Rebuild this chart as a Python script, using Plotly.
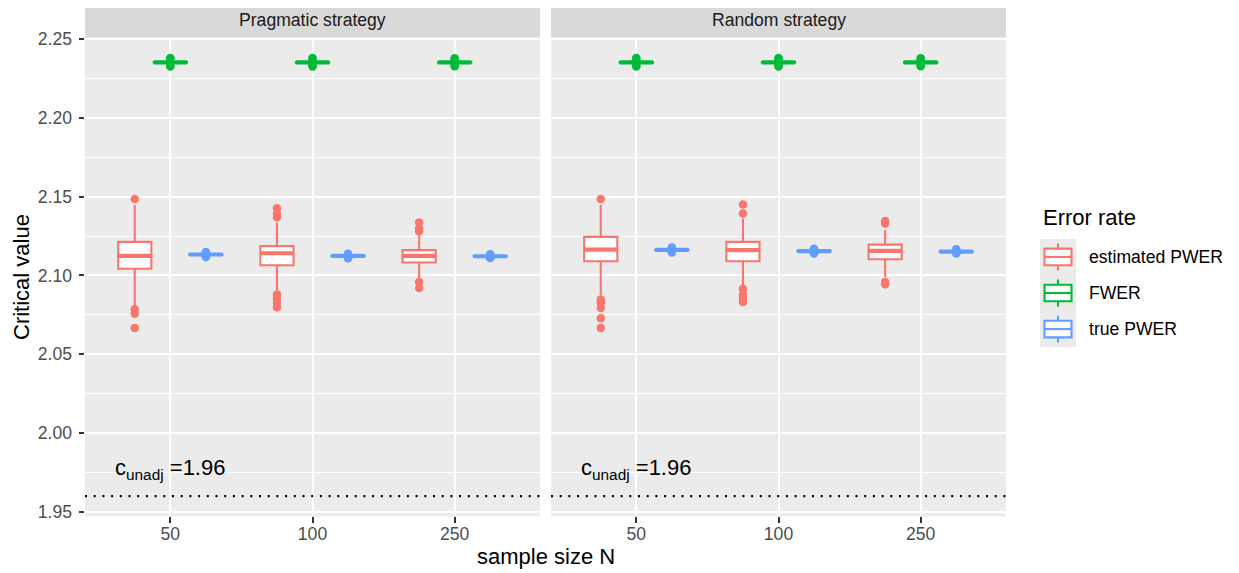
import plotly.graph_objects as go

W, H = 1239, 573

strategies = ["Pragmatic strategy", "Random strategy"]
sample_sizes = ["50", "100", "250"]
error_rates = ["estimated PWER", "FWER", "true PWER"]
colors = ["#F8766D", "#00BA38", "#619CFF"]
c_unadj = 1.96

# estimated PWER: [strategy][sample size]
est_low = [[2.0806, 2.0906, 2.0980], [2.0874, 2.0938, 2.0990]]
est_q1 = [[2.1043, 2.1065, 2.1082], [2.1090, 2.1090, 2.1103]]
est_med = [[2.1124, 2.1141, 2.1124], [2.1164, 2.1161, 2.1156]]
est_q3 = [[2.1213, 2.1186, 2.1161], [2.1245, 2.1213, 2.1196]]
est_high = [[2.1447, 2.1336, 2.1256], [2.1449, 2.1362, 2.1288]]
est_out = [
    [[2.1485, 2.0785, 2.0757, 2.0667],
     [2.1426, 2.1394, 2.1370, 2.0880, 2.0852, 2.0827, 2.0799],
     [2.1336, 2.1298, 2.1281, 2.0959, 2.0920]],
    [[2.1485, 2.0848, 2.0827, 2.0793, 2.0729, 2.0667],
     [2.1451, 2.1394, 2.0916, 2.0878, 2.0857, 2.0831],
     [2.1345, 2.1330, 2.0959, 2.0945]],
]

# FWER
fwer_low = [[2.2349, 2.2349, 2.2349], [2.2349, 2.2349, 2.2349]]
fwer_q1 = [[2.2351, 2.2351, 2.2351], [2.2351, 2.2351, 2.2351]]
fwer_med = [[2.2353, 2.2353, 2.2353], [2.2353, 2.2353, 2.2353]]
fwer_q3 = [[2.2355, 2.2355, 2.2355], [2.2355, 2.2355, 2.2355]]
fwer_high = [[2.2357, 2.2357, 2.2357], [2.2357, 2.2357, 2.2357]]
fwer_out = [
    [[2.2327, 2.2333, 2.2373, 2.2380], [2.2327, 2.2333, 2.2373, 2.2380], [2.2328, 2.2334, 2.2372, 2.2378]],
    [[2.2327, 2.2333, 2.2373, 2.2380], [2.2327, 2.2333, 2.2373, 2.2380], [2.2328, 2.2334, 2.2372, 2.2378]],
]

# true PWER
true_low = [[2.1127, 2.1118, 2.1117], [2.1156, 2.1148, 2.1147]]
true_q1 = [[2.1131, 2.1122, 2.1120], [2.1160, 2.1152, 2.1150]]
true_med = [[2.1133, 2.1124, 2.1122], [2.1162, 2.1154, 2.1152]]
true_q3 = [[2.1135, 2.1126, 2.1124], [2.1164, 2.1156, 2.1154]]
true_high = [[2.1139, 2.1130, 2.1127], [2.1168, 2.1160, 2.1157]]
true_out = [
    [[2.1117, 2.1122, 2.1145, 2.1149], [2.1110, 2.1115, 2.1134, 2.1138], [2.1111, 2.1115, 2.1130, 2.1134]],
    [[2.1146, 2.1151, 2.1173, 2.1178], [2.1140, 2.1145, 2.1165, 2.1169], [2.1140, 2.1144, 2.1162, 2.1166]],
]

stats = [
    (est_low, est_q1, est_med, est_q3, est_high, est_out),
    (fwer_low, fwer_q1, fwer_med, fwer_q3, fwer_high, fwer_out),
    (true_low, true_q1, true_med, true_q3, true_high, true_out),
]

FONT = "Liberation Sans, Arial, sans-serif"
dodge = 0.75
box_w = 0.7 / 3
offsets = [-dodge / 3, 0.0, dodge / 3]

# target pixel geometry -> paper (vertical extent of the rendered page is 7.5..566.5)
def PX(x):
    return x / W

def PY(y):
    return min(1.0, max(0.0, 1 - (y - 7.5) / 559.0))

panel_x = [(85, 540), (551, 1006)]
panel_top, panel_bot = 37, 515

fig = go.Figure()

for p, strat in enumerate(strategies):
    xa = "x" if p == 0 else "x2"
    ya = "y" if p == 0 else "y2"
    for g, name in enumerate(error_rates):
        low, q1, med, q3, high, out = stats[g]
        xs = [i + 1 + offsets[g] for i in range(len(sample_sizes))]
        fig.add_trace(go.Box(
            x=xs, q1=q1[p], median=med[p], q3=q3[p],
            lowerfence=low[p], upperfence=high[p],
            width=box_w, fillcolor="white",
            line=dict(color=colors[g], width=2.1),
            whiskerwidth=0, boxpoints=False,
            name=name, showlegend=False, xaxis=xa, yaxis=ya,
        ))
        # fattened median line
        mx, my = [], []
        for i, xc in enumerate(xs):
            mx += [xc - box_w / 2, xc + box_w / 2, None]
            my += [med[p][i], med[p][i], None]
        fig.add_trace(go.Scatter(
            x=mx, y=my, mode="lines", line=dict(color=colors[g], width=4.2),
            showlegend=False, hoverinfo="skip", xaxis=xa, yaxis=ya,
        ))
        # outliers
        ox, oy = [], []
        for i, xc in enumerate(xs):
            for v in out[p][i]:
                ox.append(xc)
                oy.append(v)
        fig.add_trace(go.Scatter(
            x=ox, y=oy, mode="markers",
            marker=dict(color=colors[g], size=8.5, line=dict(width=0)),
            showlegend=False, xaxis=xa, yaxis=ya,
        ))

axis_common = dict(
    range=[0.4, 3.6], tickvals=[1, 2, 3], ticktext=sample_sizes,
    showgrid=True, gridcolor="white", gridwidth=2.1, zeroline=False, showline=False,
    ticks="outside", ticklen=5.5, tickwidth=2.1, tickcolor="#333333",
    tickfont=dict(family=FONT, size=17.6, color="#4D4D4D"),
    ticklabelstandoff=-4, fixedrange=True,
)
yrange = [1.9471, 2.2510]
ydom = [PY(panel_bot), PY(panel_top)]
yaxis_common = dict(
    range=yrange, domain=ydom, tick0=1.95, dtick=0.05, tickformat=".2f",
    showgrid=True, gridcolor="white", gridwidth=2.1, zeroline=False, showline=False,
    minor=dict(dtick=0.025, tick0=1.95, showgrid=True, gridcolor="white", gridwidth=1.07, ticks=""),
    fixedrange=True,
)

fig.update_layout(
    width=W, height=H,
    margin=dict(l=0, r=0, t=0, b=0),
    paper_bgcolor="white", plot_bgcolor="#EBEBEB",
    font=dict(family=FONT, color="black"),
    showlegend=False, boxmode="overlay",
    xaxis=dict(domain=[PX(panel_x[0][0]), PX(panel_x[0][1])], anchor="y", **axis_common),
    xaxis2=dict(domain=[PX(panel_x[1][0]), PX(panel_x[1][1])], anchor="y2", **axis_common),
    yaxis=dict(anchor="x", ticks="outside", ticklen=5.5, tickwidth=2.1, tickcolor="#333333",
               tickfont=dict(family=FONT, size=17.6, color="#4D4D4D"), ticklabelstandoff=3,
               **yaxis_common),
    yaxis2=dict(anchor="x2", matches="y", showticklabels=False, ticks="", **yaxis_common),
)

shapes = []
annotations = []
for p, strat in enumerate(strategies):
    x0, x1 = panel_x[p]
    # strip
    shapes.append(dict(type="rect", xref="paper", yref="paper",
                       x0=PX(x0), x1=PX(x1), y0=PY(panel_top), y1=PY(1.5),
                       fillcolor="#D9D9D9", line=dict(width=0), layer="below"))
    annotations.append(dict(text=strat, xref="paper", yref="paper",
                            x=PX((x0 + x1) / 2), y=PY(19), xanchor="center", yanchor="middle",
                            showarrow=False, font=dict(family=FONT, size=17.6, color="#1A1A1A")))
    # unadjusted critical value line
    xd = "x domain" if p == 0 else "x2 domain"
    yr = "y" if p == 0 else "y2"
    shapes.append(dict(type="line", xref=xd, yref=yr, x0=0, x1=1, y0=c_unadj, y1=c_unadj,
                       line=dict(color="black", width=2.1, dash="2px,6.7px")))
    annotations.append(dict(text="c<sub>unadj</sub> =%.2f" % c_unadj,
                            xref="x" if p == 0 else "x2", yref=yr,
                            x=1, y=1.9770, xanchor="center", yanchor="middle",
                            showarrow=False, font=dict(family=FONT, size=22, color="black")))

# axis titles
annotations.append(dict(text="sample size N", xref="paper", yref="paper",
                        x=PX((panel_x[0][0] + panel_x[1][1]) / 2), y=PY(555),
                        xanchor="center", yanchor="middle", showarrow=False,
                        font=dict(family=FONT, size=22, color="black")))
annotations.append(dict(text="Critical value", xref="paper", yref="paper",
                        x=PX(22), y=PY((panel_top + panel_bot) / 2), textangle=-90,
                        xanchor="center", yanchor="middle", showarrow=False,
                        font=dict(family=FONT, size=22, color="black")))

# legend (drawn)
annotations.append(dict(text="Error rate", xref="paper", yref="paper",
                        x=PX(1041), y=PY(217), xanchor="left", yanchor="middle",
                        showarrow=False, font=dict(family=FONT, size=22, color="black")))
key_x0, key_x1 = 1040, 1076
key_top = 238
key_h = 36
shapes.append(dict(type="rect", xref="paper", yref="paper",
                   x0=PX(key_x0), x1=PX(key_x1), y0=PY(key_top + key_h * len(error_rates)), y1=PY(key_top),
                   fillcolor="#EBEBEB", line=dict(width=0)))
for g, name in enumerate(error_rates):
    cy = key_top + key_h * g + key_h / 2
    col = colors[g]
    cx = (key_x0 + key_x1) / 2
    shapes.append(dict(type="line", xref="paper", yref="paper", x0=PX(cx), x1=PX(cx),
                       y0=PY(cy - 13.5), y1=PY(cy + 13.5), line=dict(color=col, width=2.1)))
    shapes.append(dict(type="rect", xref="paper", yref="paper", x0=PX(1044.5), x1=PX(1071.5),
                       y0=PY(cy + 8.3), y1=PY(cy - 8.3), fillcolor="white", line=dict(color=col, width=2.1)))
    shapes.append(dict(type="line", xref="paper", yref="paper", x0=PX(1044.5), x1=PX(1071.5),
                       y0=PY(cy), y1=PY(cy), line=dict(color=col, width=2.1)))
    annotations.append(dict(text=name, xref="paper", yref="paper",
                            x=PX(1087), y=PY(cy), xanchor="left", yanchor="middle",
                            showarrow=False, font=dict(family=FONT, size=17.6, color="black")))

fig.update_layout(shapes=shapes, annotations=annotations)
fig.write_html("out.html", config={"displayModeBar": False})
